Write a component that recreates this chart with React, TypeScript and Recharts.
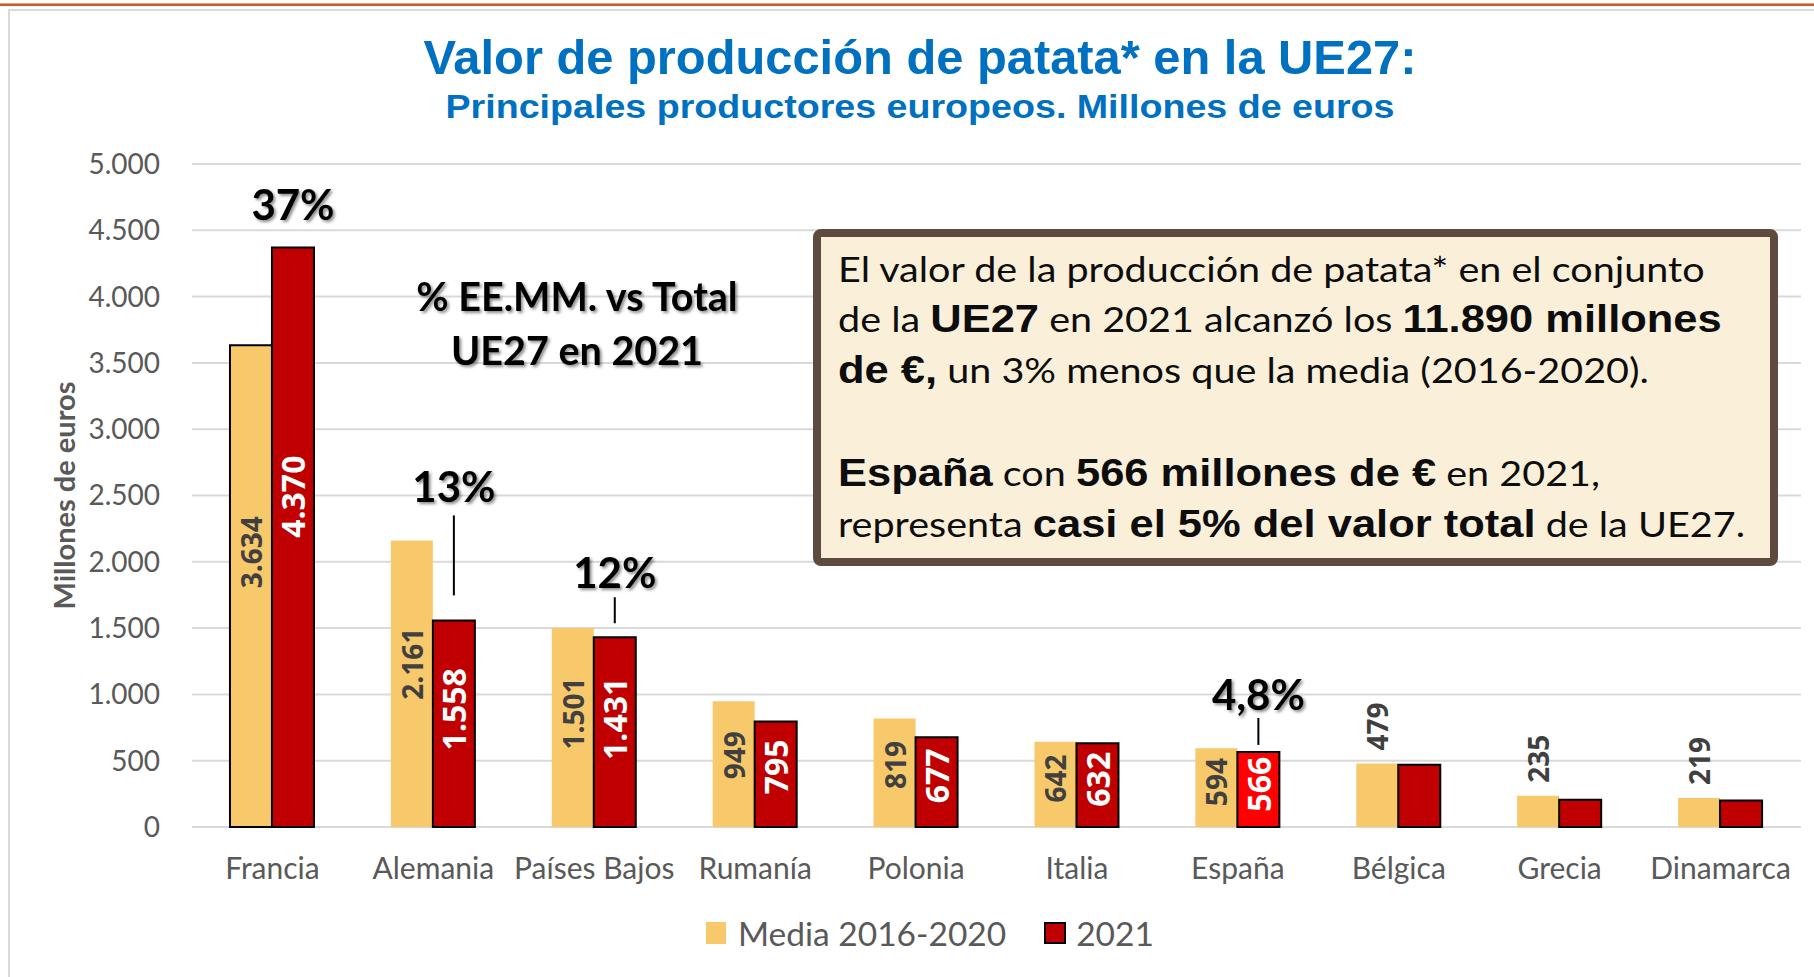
import React from 'react';
import { BarChart, Bar, XAxis, YAxis, CartesianGrid, Cell, LabelList, Legend } from 'recharts';

// ---------- data ----------
const categories = ['Francia', 'Alemania', 'Países Bajos', 'Rumanía', 'Polonia', 'Italia', 'España', 'Bélgica', 'Grecia', 'Dinamarca'];
const mediaValues = [3634, 2161, 1501, 949, 819, 642, 594, 479, 235, 219];
const values2021 = [4370, 1558, 1431, 795, 677, 632, 566, 470, 205, 200];
const shareLabels = ['37%', '13%', '12%', '', '', '', '4,8%', '', '', ''];
const yTicks = [0, 500, 1000, 1500, 2000, 2500, 3000, 3500, 4000, 4500, 5000];
const seriesNames = ['Media 2016-2020', '2021'];
const highlightCountry = 'España';

// ---------- styles ----------
const W = 1814;
const H = 977;
const COL_MEDIA = '#F8C96A';
const COL_2021 = '#C00000';
const COL_HIGHLIGHT = '#FF0000';
const GRID = '#D9D9D9';
const AXIS_TEXT = '#595959';
const CAL = "Lato, 'Open Sans', sans-serif";
const LBL = "'Open Sans', sans-serif";
const ARIAL = "'Liberation Sans', Arial, sans-serif";
const INSIDE_MIN = 500;
const INSIDE_FRAC = 0.57;
// pixel offsets above the red bar top for the share annotations: [text centre, line start, line end]
const shareOffsets: (number[] | null)[] = [[44], [134, 25, 105], [65, 14, 40], null, null, null, [58, 7, 34], null, null, null];

const data = categories.map((name, i) => ({
  name,
  media: mediaValues[i],
  v2021: values2021[i],
  pct: shareLabels[i],
}));

const fmt = (v: number) => String(v).replace(/\B(?=(\d{3})+(?!\d))/g, '.');

const MediaLabel = (props: any) => {
  const { x, y, width, height, value } = props;
  if (value == null) return null;
  const cx = x + width / 2;
  const inside = value >= INSIDE_MIN;
  const cy = inside ? y + height * (1 - INSIDE_FRAC) : y - 13;
  return (
    <text x={cx} y={cy} transform={`rotate(-90 ${cx} ${cy})`} textAnchor={inside ? 'middle' : 'start'}
      dominantBaseline="central" fill="#404040" fontFamily={LBL} fontWeight={700} fontSize={28}>{fmt(value)}</text>
  );
};

const RedLabel = (props: any) => {
  const { x, y, width, height, value } = props;
  if (value == null || value < INSIDE_MIN) return null;
  const cx = x + width / 2;
  const cy = y + height * (1 - INSIDE_FRAC);
  return (
    <text x={cx} y={cy} transform={`rotate(-90 ${cx} ${cy})`} textAnchor="middle" dominantBaseline="central"
      fill="#FFFFFF" fontFamily={LBL} fontWeight={700} fontSize={32}>{fmt(value)}</text>
  );
};

const ShareLabel = (props: any) => {
  const { x, y, width, value, index } = props;
  if (!value) return null;
  const off = shareOffsets[index];
  if (!off) return null;
  const cx = x + width / 2;
  return (
    <g>
      {off.length > 1 && (
        <line x1={cx} x2={cx} y1={y - off[1]} y2={y - off[2]} stroke="#000" strokeWidth={2} />
      )}
      <text x={cx} y={y - off[0]} textAnchor="middle" dominantBaseline="central" fill="#000"
        fontFamily={CAL} fontWeight={700} fontSize={42} filter="url(#txtShadow)">{value}</text>
    </g>
  );
};

const YLabel = (props: any) => {
  const vb = props.viewBox || { x: 0, y: 164, width: 192, height: 663 };
  const cx = vb.x + 63;
  const cy = vb.y + vb.height / 2;
  return (
    <text x={cx} y={cy} transform={`rotate(-90 ${cx} ${cy})`} textAnchor="middle" dominantBaseline="central"
      fill={AXIS_TEXT} fontFamily={CAL} fontWeight={700} fontSize={29}>Millones de euros</text>
  );
};

const legendColors = [COL_MEDIA, COL_2021];
const LegendContent = () => (
  <div style={{ display: 'flex', alignItems: 'center', fontFamily: CAL, fontSize: 33.5, color: AXIS_TEXT, whiteSpace: 'nowrap' }}>
    {seriesNames.map((name, i) => (
      <div key={i} style={{ display: 'flex', alignItems: 'center', marginLeft: i === 0 ? 0 : 38 }}>
        <span style={{
          display: 'inline-block', width: i === 0 ? 20 : 22, height: 22, background: legendColors[i],
          border: i === 0 ? 'none' : '2px solid #000', boxSizing: 'border-box', marginRight: i === 0 ? 12 : 10,
        }} />
        <span>{name}</span>
      </div>
    ))}
  </div>
);

const boxLines: { y: number; parts: [string, boolean][] }[] = [
  { y: 282, parts: [['El valor de la producción de patata* en el conjunto', false]] },
  { y: 332, parts: [['de la ', false], ['UE27', true], [' en 2021 alcanzó los ', false], ['11.890 millones', true]] },
  { y: 383, parts: [['de €,', true], [' un 3% menos que la media (2016-2020).', false]] },
  { y: 486, parts: [['España', true], [' con ', false], ['566 millones de €', true], [' en 2021,', false]] },
  { y: 537, parts: [['representa ', false], ['casi el 5% del valor total', true], [' de la UE27.', false]] },
];
const BOX_X = 838;
const BOX_STRETCH = 1.13;

export default function App() {
  return (
    <div style={{ position: 'absolute', left: 0, top: 0, width: W, height: H, background: '#fff', overflow: 'hidden' }}>
      <div style={{ position: 'absolute', left: 0, top: 3, width: W, height: 1, background: '#E9A074' }} />
      <div style={{ position: 'absolute', left: 0, top: 4, width: W, height: 2, background: '#CB5A20' }} />
      <div style={{ position: 'absolute', left: 8, top: 9, width: W, height: H, borderLeft: '2px solid #DADADA', borderTop: '2px solid #DADADA' }} />
      <div style={{ position: 'absolute', left: 0, top: 0 }}>
        <BarChart width={W} height={H} data={data} margin={{ top: 164, right: 13, bottom: 120, left: 0 }}
          barCategoryGap="23.6%" barGap={0}>
          <CartesianGrid vertical={false} stroke={GRID} strokeWidth={2} />
          <XAxis dataKey="name" interval={0} tickLine={false} axisLine={false} tickMargin={25} height={30}
            tick={{ fill: AXIS_TEXT, fontFamily: CAL, fontSize: 30 }} />
          <YAxis type="number" domain={[0, 5000]} ticks={yTicks} width={192} tickLine={false} axisLine={false}
            tickMargin={26} tickFormatter={fmt} tick={{ fill: AXIS_TEXT, fontFamily: CAL, fontSize: 28 }}
            label={{ content: (p: any) => <YLabel {...p} /> }} />
          <Legend verticalAlign="middle" align="center" content={<LegendContent />}
            wrapperStyle={{ left: 706, top: 913, width: 600, height: 44 }} />
          <Bar dataKey="media" name={seriesNames[0]} fill={COL_MEDIA} isAnimationActive={false}>
            {data.map((d, i) => (
              <Cell key={i} fill={COL_MEDIA} stroke={i === 0 ? '#000' : 'none'} strokeWidth={i === 0 ? 2 : 0} />
            ))}
            <LabelList dataKey="media" content={<MediaLabel />} />
          </Bar>
          <Bar dataKey="v2021" name={seriesNames[1]} fill={COL_2021} stroke="#000" strokeWidth={2} isAnimationActive={false}>
            {data.map((d, i) => (
              <Cell key={i} fill={d.name === highlightCountry ? COL_HIGHLIGHT : COL_2021} stroke="#000" strokeWidth={2} />
            ))}
            <LabelList dataKey="v2021" content={<RedLabel />} />
            <LabelList dataKey="pct" content={<ShareLabel />} />
          </Bar>
        </BarChart>
      </div>
      <svg width={W} height={H} style={{ position: 'absolute', left: 0, top: 0, pointerEvents: 'none' }}>
        <defs>
          <filter id="txtShadow" x="-20%" y="-20%" width="140%" height="160%">
            <feDropShadow dx="2" dy="2" stdDeviation="1.5" floodColor="#000" floodOpacity="0.45" />
          </filter>
        </defs>
        <text x={920} y={74} textAnchor="middle" fill="#0070C0" fontFamily={ARIAL} fontWeight={700} fontSize={48.5}
          textLength={993} lengthAdjust="spacingAndGlyphs">
          Valor de producción de patata* en la UE27:
        </text>
        <text x={920} y={118} textAnchor="middle" fill="#0070C0" fontFamily={ARIAL} fontWeight={700} fontSize={33}
          textLength={949} lengthAdjust="spacingAndGlyphs">
          Principales productores europeos. Millones de euros
        </text>
        <text x={577} y={311} textAnchor="middle" fill="#000" fontFamily={CAL} fontWeight={700} fontSize={39.5} filter="url(#txtShadow)">
          % EE.MM. vs Total
        </text>
        <text x={577} y={365} textAnchor="middle" fill="#000" fontFamily={CAL} fontWeight={700} fontSize={39.5} filter="url(#txtShadow)">
          UE27 en 2021
        </text>
        <rect x={817} y={233} width={957} height={329} rx={4} fill="#FAF0DA" stroke="#5E4A3F" strokeWidth={8} />
        <g transform={`translate(${BOX_X} 0) scale(${BOX_STRETCH} 1) translate(${-BOX_X} 0)`}>
          {boxLines.map((ln, i) => (
            <text key={i} x={BOX_X} y={ln.y} fill="#0D0D0D" style={{ whiteSpace: 'pre' }}>
              {ln.parts.map(([t, b], j) => (
                <tspan key={j} fontFamily={b ? ARIAL : CAL} fontWeight={b ? 700 : 400} fontSize={b ? 38.5 : 35}>{t}</tspan>
              ))}
            </text>
          ))}
        </g>
      </svg>
    </div>
  );
}
